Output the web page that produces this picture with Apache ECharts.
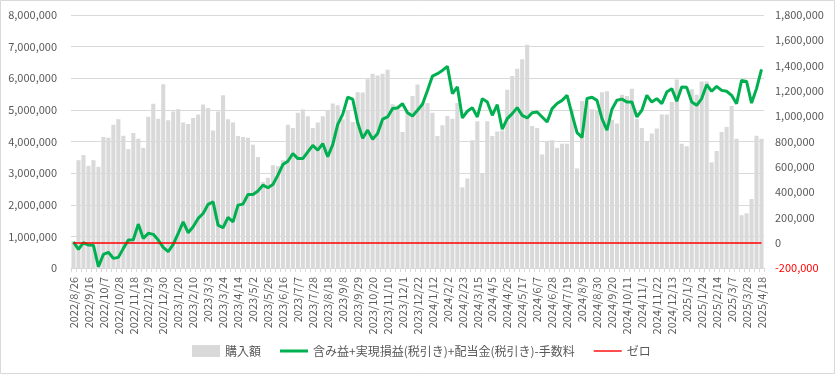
<!DOCTYPE html>
<html><head><meta charset="utf-8">
<script src="https://cdn.jsdelivr.net/npm/echarts@6/dist/echarts.min.js"></script>
<style>html,body{margin:0;padding:0;background:#fff}#c{width:835px;height:374px}</style>
</head><body><div id="c"></div>
<script>
const categories = [
'2022/8/26','2022/9/2','2022/9/9','2022/9/16','2022/9/22','2022/9/30','2022/10/7','2022/10/14','2022/10/21','2022/10/28','2022/11/4','2022/11/11','2022/11/18','2022/11/25','2022/12/2','2022/12/9','2022/12/16','2022/12/23','2022/12/30',
'2023/1/6','2023/1/13','2023/1/20','2023/1/27','2023/2/3','2023/2/10','2023/2/17','2023/2/24','2023/3/3','2023/3/10','2023/3/17','2023/3/24','2023/3/31','2023/4/7','2023/4/14','2023/4/21','2023/4/28','2023/5/2','2023/5/12','2023/5/19','2023/5/26','2023/6/2','2023/6/9','2023/6/16','2023/6/23','2023/6/30','2023/7/7','2023/7/14','2023/7/21','2023/7/28','2023/8/4','2023/8/10','2023/8/18','2023/8/25','2023/9/1','2023/9/8','2023/9/15','2023/9/22','2023/9/29','2023/10/6','2023/10/13','2023/10/20','2023/10/27','2023/11/2','2023/11/10','2023/11/17','2023/11/24','2023/12/1','2023/12/8','2023/12/15','2023/12/22','2023/12/29',
'2024/1/5','2024/1/12','2024/1/19','2024/1/26','2024/2/2','2024/2/9','2024/2/16','2024/2/23','2024/3/1','2024/3/8','2024/3/15','2024/3/22','2024/3/29','2024/4/5','2024/4/12','2024/4/19','2024/4/26','2024/5/2','2024/5/10','2024/5/17','2024/5/24','2024/5/31','2024/6/7','2024/6/14','2024/6/21','2024/6/28','2024/7/5','2024/7/12','2024/7/19','2024/7/26','2024/8/2','2024/8/9','2024/8/16','2024/8/23','2024/8/30','2024/9/6','2024/9/13','2024/9/20','2024/9/27','2024/10/4','2024/10/11','2024/10/18','2024/10/25','2024/11/1','2024/11/8','2024/11/15','2024/11/22','2024/11/29','2024/12/6','2024/12/13','2024/12/20','2024/12/27',
'2025/1/3','2025/1/10','2025/1/17','2025/1/24','2025/1/31','2025/2/7','2025/2/14','2025/2/21','2025/2/28','2025/3/7','2025/3/14','2025/3/21','2025/3/28','2025/4/4','2025/4/11','2025/4/18'
];

const purchaseAmount = [
 850000,3410000,3570000,3230000,3410000,3200000,4140000,4120000,4530000,4700000,
 4180000,3760000,4270000,4090000,3800000,4780000,5190000,4720000,5810000,4670000,
 4950000,5020000,4600000,4550000,4740000,4850000,5170000,5060000,4350000,4950000,
 5460000,4700000,4600000,4170000,4140000,4120000,3900000,3510000,2720000,2850000,
 3250000,3220000,3410000,4530000,4430000,4910000,5010000,4800000,4430000,4600000,
 4800000,5000000,5200000,5150000,4700000,5000000,4620000,5560000,5550000,5970000,
 6140000,6090000,6140000,6270000,5180000,5140000,4300000,4930000,5440000,5800000,
 5230000,5220000,4910000,4170000,4510000,4810000,4720000,5220000,2550000,2830000,
 4040000,4640000,2990000,4640000,4170000,4320000,4350000,5640000,6070000,6300000,
 6600000,7060000,4490000,4430000,3590000,4020000,4040000,3800000,3930000,3930000,
 5010000,3150000,5280000,5280000,5020000,5000000,5560000,5590000,4690000,4570000,
 5480000,5440000,5670000,4720000,4430000,4010000,4250000,4410000,4850000,4850000,
 5250000,5960000,3930000,3850000,5650000,5480000,5900000,5900000,3340000,3700000,
 4300000,4460000,5120000,4090000,1670000,1730000,2180000,4180000,4090000
];

const totalProfit = [
 5000,-52000,0,-19000,-21000,-190000,-92000,-76000,-124000,-116000,
 -45000,21000,23000,147000,34000,74000,66000,21000,-37000,-71000,
 -13000,74000,165000,79000,126000,192000,231000,303000,323000,139000,
 118000,200000,165000,297000,305000,381000,381000,408000,455000,434000,
 460000,534000,618000,644000,705000,665000,665000,718000,770000,731000,
 784000,680000,775000,935000,1015000,1150000,1135000,950000,825000,890000,
 818000,863000,976000,994000,1060000,1065000,1099000,1028000,1002000,1047000,
 1094000,1204000,1317000,1336000,1362000,1394000,1178000,1231000,986000,1039000,
 1068000,994000,1139000,1112000,1007000,1091000,897000,981000,1020000,1068000,
 1007000,986000,1028000,1033000,994000,954000,1060000,1100000,1125000,1165000,
 1015000,870000,832000,1140000,1150000,1125000,981000,889000,1055000,1126000,
 1135000,1112000,1112000,994000,1047000,1165000,1112000,1139000,1099000,1191000,
 1218000,1118000,1231000,1228000,1112000,1086000,1139000,1249000,1197000,1236000,
 1204000,1197000,1165000,1099000,1283000,1275000,1104000,1218000,1370000
];

const leftAxisRange = [0, 8000000, 1000000];
const rightAxisRange = [-200000, 1800000, 200000];
const zeroLevel = 0;
const seriesNames = ['購入額', '含み益+実現損益(税引き)+配当金(税引き)-手数料', 'ゼロ'];

const FONT = '"Noto Sans CJK JP", "Noto Sans", sans-serif';
const fmt = v => Number(v).toLocaleString('en-US');
const chart = echarts.init(document.getElementById('c'), null, {renderer: 'canvas'});
chart.setOption({
  animation: false,
  backgroundColor: '#ffffff',
  textStyle: {fontFamily: FONT},
  graphic: [{type: 'rect', shape: {x: 0.5, y: 0.5, width: 834, height: 373}, style: {fill: 'none', stroke: '#D9D9D9', lineWidth: 1}, z: -10}],
  grid: {left: 71, right: 71, top: 15, bottom: 106},
  legend: {
    bottom: 12, left: 187, itemGap: 19, itemWidth: 28, itemHeight: 12,
    textStyle: {color: '#595959', fontSize: 12, fontFamily: FONT},
    data: [
      {name: seriesNames[0], icon: 'rect', itemStyle: {color: '#D9D9D9'}},
      {name: seriesNames[1], icon: 'path://M0,0h28v3h-28z', itemStyle: {color: '#00B050', borderWidth: 0}},
      {name: seriesNames[2], icon: 'path://M0,0h28v1.4h-28z', itemStyle: {color: '#FF0000', borderWidth: 0}}
    ]
  },
  xAxis: {
    type: 'category', data: categories, boundaryGap: true,
    axisLine: {lineStyle: {color: '#D9D9D9'}},
    axisTick: {show: true, interval: 0, length: 4, lineStyle: {color: '#D9D9D9'}},
    axisLabel: {interval: 2, rotate: 90, margin: 9, color: '#595959', fontSize: 11, fontFamily: FONT}
  },
  yAxis: [
    {type: 'value', min: leftAxisRange[0], max: leftAxisRange[1], interval: leftAxisRange[2],
     axisLine: {show: false}, axisTick: {show: false},
     splitLine: {lineStyle: {color: '#D9D9D9'}},
     axisLabel: {color: '#595959', fontSize: 11, margin: 14, fontFamily: FONT, formatter: fmt}},
    {type: 'value', min: rightAxisRange[0], max: rightAxisRange[1], interval: rightAxisRange[2],
     axisLine: {show: false}, axisTick: {show: false}, splitLine: {show: false},
     axisLabel: {fontSize: 11, margin: 11, fontFamily: FONT, formatter: fmt,
       color: v => (Number(v) < 0 ? '#FF0000' : '#595959')}}
  ],
  series: [
    {name: seriesNames[0], type: 'bar', data: purchaseAmount, yAxisIndex: 0,
     barCategoryGap: '18%', itemStyle: {color: '#D9D9D9'}, z: 1},
    {name: seriesNames[2], type: 'line', yAxisIndex: 1, data: [], symbol: 'none',
     itemStyle: {color: '#FF0000'}, lineStyle: {color: '#FF0000', width: 1.5}, z: 3,
     markLine: {silent: true, symbol: ['none', 'none'], label: {show: false},
       lineStyle: {color: '#FF0000', width: 1.5, type: 'solid'},
       data: [[{coord: [categories[0], zeroLevel]}, {coord: [categories[categories.length - 1], zeroLevel]}]]}},
    {name: seriesNames[1], type: 'line', yAxisIndex: 1, data: totalProfit, symbol: 'none',
     itemStyle: {color: '#00B050'}, lineStyle: {color: '#00B050', width: 3}, z: 4}
  ]
});
</script></body></html>
